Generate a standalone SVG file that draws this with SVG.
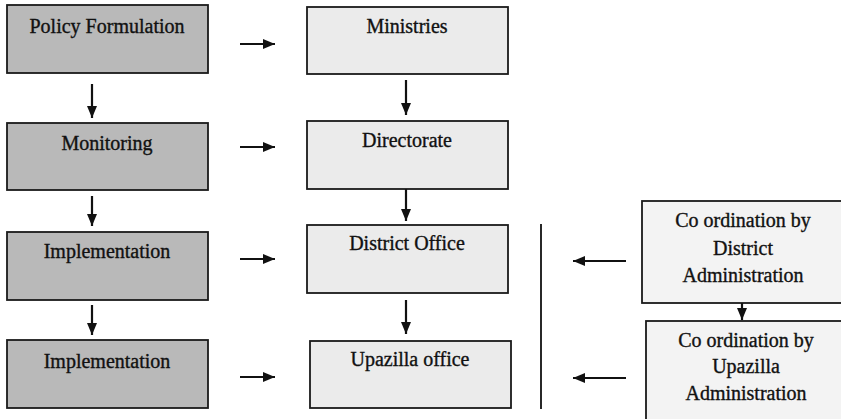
<svg xmlns="http://www.w3.org/2000/svg" width="841" height="419" viewBox="0 0 841 419">
<defs>
<marker id="ah" viewBox="0 0 12 10" refX="12" refY="5" markerWidth="12" markerHeight="10" orient="auto" markerUnits="userSpaceOnUse">
<path d="M0,0 L12,5 L0,10 z" fill="#111"/>
</marker>
<style>
.dark{fill:#b9b9b9;stroke:#1a1a1a;stroke-width:1.8}
.light{fill:#ebebeb;stroke:#1a1a1a;stroke-width:1.8}
.pale{fill:#f3f3f3;stroke:#1a1a1a;stroke-width:1.8}
text{font-family:"Liberation Serif","Times New Roman",serif;font-size:20px;fill:#111;stroke:#111;stroke-width:0.35;text-anchor:middle}
.c line{stroke:#111;stroke-width:2.2;marker-end:url(#ah)}
</style>
</defs>
<rect width="841" height="419" fill="#ffffff"/>
<g id="policy"><rect class="dark" x="7" y="5" width="201" height="68"/><text x="107" y="33">Policy Formulation</text></g>
<g id="monitoring"><rect class="dark" x="7" y="123" width="201" height="67"/><text x="107" y="150">Monitoring</text></g>
<g id="impl1"><rect class="dark" x="7" y="232" width="201" height="68"/><text x="107" y="258">Implementation</text></g>
<g id="impl2"><rect class="dark" x="7" y="340" width="201" height="68"/><text x="107" y="368">Implementation</text></g>
<g id="ministries"><rect class="light" x="307" y="7" width="201" height="67"/><text x="407" y="33">Ministries</text></g>
<g id="directorate"><rect class="light" x="307" y="121" width="201" height="68"/><text x="407" y="147">Directorate</text></g>
<g id="district"><rect class="light" x="307" y="225" width="201" height="68"/><text x="407" y="250">District Office</text></g>
<g id="upazilla"><rect class="light" x="310" y="341" width="201" height="67"/><text x="410" y="366">Upazilla office</text></g>
<g id="coord-district"><rect class="pale" x="642" y="201" width="205" height="102"/><text x="743" y="227">Co ordination by</text><text x="743" y="255">District</text><text x="743" y="282">Administration</text></g>
<g id="coord-upazilla"><rect class="pale" x="646" y="321" width="200" height="100"/><text x="746" y="347">Co ordination by</text><text x="746" y="373">Upazilla</text><text x="746" y="400">Administration</text></g>
<g id="connectors" class="c">
<line x1="92" y1="84" x2="92" y2="118"/>
<line x1="92" y1="196" x2="92" y2="226"/>
<line x1="92" y1="305" x2="92" y2="335"/>
<line x1="406" y1="80" x2="406" y2="115"/>
<line x1="406" y1="189" x2="406" y2="221"/>
<line x1="406" y1="300" x2="406" y2="334"/>
<line x1="240" y1="44" x2="275" y2="44"/>
<line x1="240" y1="147" x2="275" y2="147"/>
<line x1="240" y1="259" x2="275" y2="259"/>
<line x1="240" y1="377" x2="275" y2="377"/>
<line x1="626" y1="261" x2="573" y2="261"/>
<line x1="626" y1="378" x2="573" y2="378"/>
<line x1="742" y1="303" x2="742" y2="320"/>
<line x1="541" y1="224" x2="541" y2="409" style="marker-end:none;stroke-width:1.8"/>
</g>
</svg>
